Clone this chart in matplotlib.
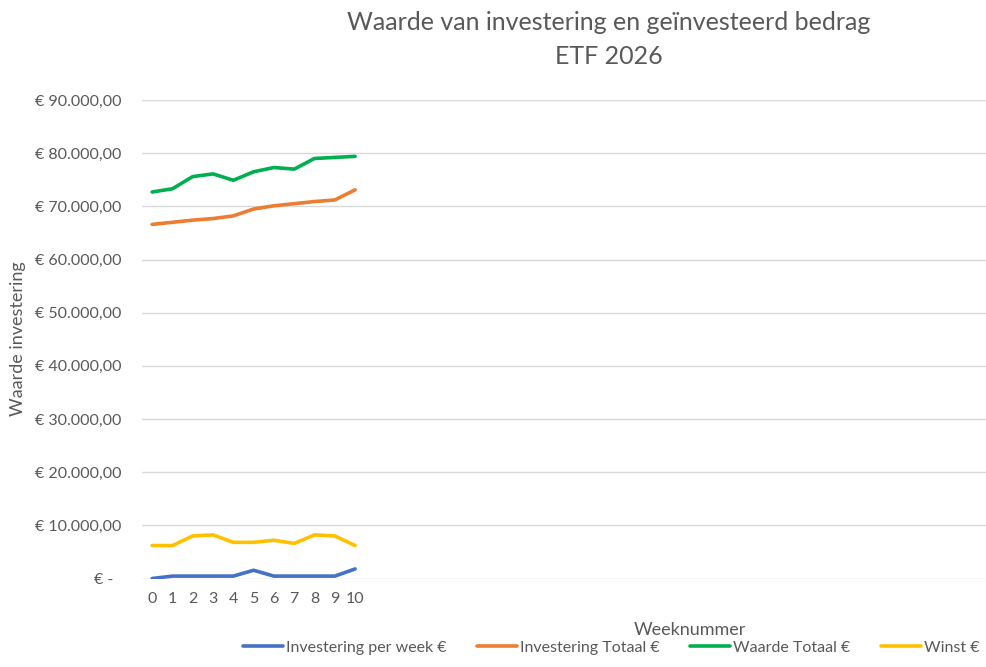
import matplotlib
matplotlib.use("Agg")
import matplotlib.pyplot as plt
from matplotlib.ticker import FuncFormatter, MultipleLocator

plt.rcParams["font.family"] = ["Lato", "DejaVu Sans"]

# --------------------
# data
# --------------------
weeks = [0, 1, 2, 3, 4, 5, 6, 7, 8, 9, 10]
investering_per_week = [0, 450, 450, 450, 450, 1550, 450, 450, 450, 450, 1800]
investering_totaal = [66600, 67000, 67400, 67700, 68200, 69500, 70100, 70500, 70900, 71200, 73100]
waarde_totaal = [72700, 73300, 75600, 76100, 74900, 76500, 77300, 77000, 79000, 79200, 79400]
winst = [6200, 6200, 8000, 8200, 6800, 6800, 7200, 6600, 8200, 8000, 6200]

n_categories = 54  # the category axis runs on past the crop of the picture

series = [
    ("Investering per week €", investering_per_week, "#4472C4"),
    ("Investering Totaal €", investering_totaal, "#ED7D31"),
    ("Waarde Totaal €", waarde_totaal, "#00B050"),
    ("Winst €", winst, "#FFC000"),
]

grey = "#595959"


def euro(v, pos):
    if v == 0:
        return "€ -  "
    s = f"{v:,.2f}".replace(",", "X").replace(".", ",").replace("X", ".")
    return f"€ {s}"


# --------------------
# figure
# --------------------
fig = plt.figure(figsize=(9.87, 6.67), dpi=100)
W, H = 987, 667
left, right, top, bottom = 142, 1238, 100, 578.5
ax = fig.add_axes([left / W, 1 - bottom / H, (right - left) / W, (bottom - top) / H])

for name, vals, color in series:
    ax.plot(weeks, vals, color=color, linewidth=2.6, label=name,
            solid_capstyle="round", solid_joinstyle="round", zorder=3)

ax.set_xlim(-0.5, n_categories - 0.5)
ax.set_ylim(0, 90000)
ax.yaxis.set_major_locator(MultipleLocator(10000))
ax.yaxis.set_major_formatter(FuncFormatter(euro))
ax.set_xticks(weeks)
ax.set_xticklabels([str(w) for w in weeks])

ax.yaxis.grid(True, color="#D9D9D9", linewidth=1)
ax.set_axisbelow(True)
for s in ax.spines.values():
    s.set_visible(False)
ax.tick_params(axis="both", length=0, colors=grey, labelsize=11.5)
ax.tick_params(axis="y", pad=15)
ax.tick_params(axis="x", pad=10)

# axis titles (placed on the figure, the plot area runs past the crop)
fig.text(18 / W, 1 - 339 / H, "Waarde investering", rotation=90,
         ha="center", va="center", fontsize=13, color=grey)
fig.text(690 / W, 1 - 630 / H, "Weeknummer",
         ha="center", va="center", fontsize=13, color=grey)

fig.text(609 / W, 1 - 22 / H, "Waarde van investering en geïnvesteerd bedrag",
         ha="center", va="center", fontsize=18, color=grey)
fig.text(609 / W, 1 - 56 / H, "ETF 2026",
         ha="center", va="center", fontsize=18, color=grey)

fig.legend(loc="center", bbox_to_anchor=(611 / W, 1 - 648 / H), ncol=4,
           frameon=False, fontsize=11.5, handlelength=2.5, columnspacing=1.9,
           handletextpad=0.2, labelcolor=grey)

fig.savefig("out.png", dpi=100)
